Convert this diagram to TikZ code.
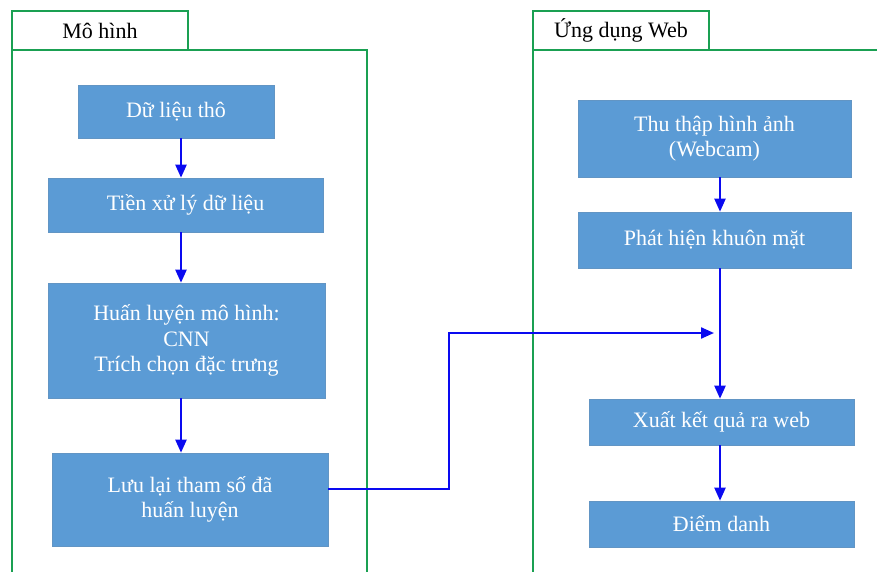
\documentclass[tikz,border=0pt]{standalone}
\usepackage{fontspec}
\setmainfont{Liberation Serif}
\usetikzlibrary{arrows.meta}
\definecolor{boxblue}{HTML}{5B9BD5}
\definecolor{framegreen}{HTML}{1AA052}
\definecolor{arrblue}{HTML}{0A0AF0}
\begin{document}
\begin{tikzpicture}[x=1pt,y=-1pt,
  blk/.style={fill=boxblue, draw=boxblue!80!gray, line width=0.6pt, text=white, align=center,
    inner sep=0pt, font=\fontsize{22}{25.5}\selectfont},
  frm/.style={draw=framegreen, line width=2pt},
  tab/.style={draw=framegreen, line width=2pt, fill=white, inner sep=0pt, font=\fontsize{22}{25}\selectfont},
  arr/.style={draw=arrblue, line width=2.2pt, -{Triangle[length=13pt,width=11pt]}}]
\useasboundingbox (0,0) rectangle (877,572);
% frames
\draw[frm] (12,580) -- (12,50) -- (367,50) -- (367,580);
\draw[frm] (533,580) -- (533,50) -- (885,50);
\node[tab, minimum width=176pt, minimum height=39pt] (t1) at (100,30.5) {Mô hình};
\node[tab, minimum width=176pt, minimum height=39pt] (t2) at (621,30.5) {Ứng dụng Web};
% left column
\node[blk, minimum width=196pt, minimum height=53pt] (d1) at (176,111.5) {Dữ liệu thô};
\node[blk, minimum width=275pt, minimum height=54pt] (d2) at (185.5,205) {Tiền xử lý dữ liệu};
\node[blk, minimum width=277pt, minimum height=115pt] (d3) at (186.5,340.5) {Huấn luyện mô hình:\\CNN\\Trích chọn đặc trưng};
\node[blk, minimum width=276pt, minimum height=93pt] (d4) at (190,499.5) {Lưu lại tham số đã\\huấn luyện};
% right column
\node[blk, minimum width=273pt, minimum height=77pt] (w1) at (714.5,138.5) {Thu thập hình ảnh\\(Webcam)};
\node[blk, minimum width=273pt, minimum height=56pt] (w2) at (714.5,240) {Phát hiện khuôn mặt};
\node[blk, minimum width=265pt, minimum height=46pt] (w3) at (721.5,422) {Xuất kết quả ra web};
\node[blk, minimum width=265pt, minimum height=46pt] (w4) at (721.5,524) {Điểm danh};
\coordinate (lx) at (181,0);
\coordinate (rx) at (720,0);
\coordinate (jx) at (449,0);
\coordinate (tip) at (714,333);
\draw[arr] (d1.south -| lx) -- (d2.north -| lx);
\draw[arr] (d2.south -| lx) -- (d3.north -| lx);
\draw[arr] (d3.south -| lx) -- (d4.north -| lx);
\draw[arr] (w1.south -| rx) -- (w2.north -| rx);
\draw[arr] (w2.south -| rx) -- (w3.north -| rx);
\draw[arr] (w3.south -| rx) -- (w4.north -| rx);
\draw[arr] (d4.east |- 0,489) -- (jx |- 0,489) -- (jx |- tip) -- (tip);
\end{tikzpicture}
\end{document}
